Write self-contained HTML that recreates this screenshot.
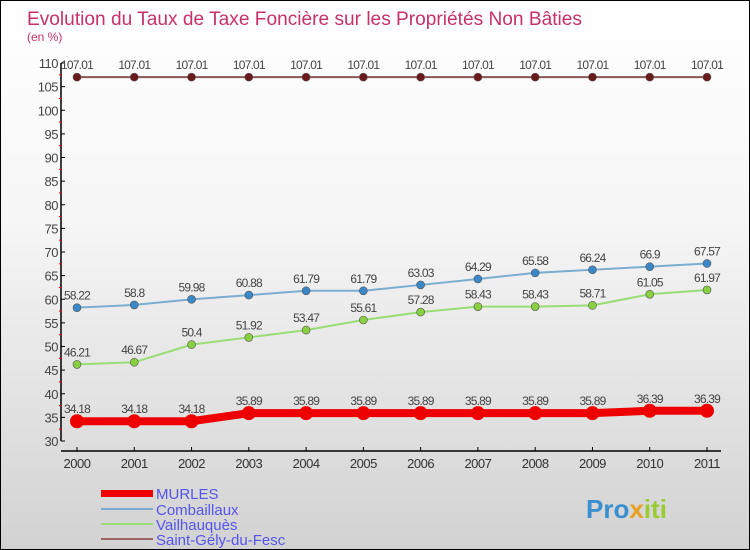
<!DOCTYPE html>
<html><head><meta charset="utf-8"><style>
body{margin:0;}
#c{width:750px;height:550px;position:relative;overflow:hidden;border:1px solid #000;box-sizing:border-box;background:linear-gradient(#fff,#f6f6f6 40%,#d2d2d2);font-family:"Liberation Sans",sans-serif;}
svg text{font-family:"Liberation Sans",sans-serif;}
</style></head><body>
<div id="c">
<svg id="s" width="750" height="550">
<text x="26" y="24" font-size="19" fill="#c8306a" textLength="555" lengthAdjust="spacingAndGlyphs">Evolution du Taux de Taxe Foncière sur les Propriétés Non Bâties</text>
<text x="26" y="40" font-size="12" fill="#c8306a">(en %)</text>
<g id="ax"></g><g id="ser"></g>
<g>
<rect x="100" y="489" width="52" height="7" fill="#e00"/>
<text x="155" y="498" font-size="15" fill="#5555ee">MURLES</text>
<rect x="100" y="507" width="52" height="2" fill="#7aaed0"/>
<text x="155" y="514" font-size="15" fill="#5555ee">Combaillaux</text>
<rect x="100" y="522" width="52" height="2" fill="#99dd77"/>
<text x="155" y="529" font-size="15" fill="#5555ee">Vailhauquès</text>
<rect x="100" y="537" width="52" height="2" fill="#996666"/>
<text x="155" y="544" font-size="15" fill="#5555ee">Saint-Gély-du-Fesc</text>
</g>
<text x="585" y="517" font-size="26" font-weight="bold" fill="#3a8fd0">Pro<tspan fill="#e8a020">x</tspan><tspan fill="#99cc33">iti</tspan></text>
</svg></div>
<script>
const years=[2000,2001,2002,2003,2004,2005,2006,2007,2008,2009,2010,2011];
const yTicks=[30,35,40,45,50,55,60,65,70,75,80,85,90,95,100,105,110];
const murles=[34.18,34.18,34.18,35.89,35.89,35.89,35.89,35.89,35.89,35.89,36.39,36.39];
const combaillaux=[58.22,58.8,59.98,60.88,61.79,61.79,63.03,64.29,65.58,66.24,66.9,67.57];
const vailhauques=[46.21,46.67,50.4,51.92,53.47,55.61,57.28,58.43,58.43,58.71,61.05,61.97];
const saintGely=[107.01,107.01,107.01,107.01,107.01,107.01,107.01,107.01,107.01,107.01,107.01,107.01];
const NS="http://www.w3.org/2000/svg";
const X=i=>76+i*(630/11), Y=v=>440-(v-30)*(378/80);
function mk(t,a,p){const e=document.createElementNS(NS,t);for(const k in a)e.setAttribute(k,a[k]);p.appendChild(e);return e;}
const ax=document.getElementById('ax'), ser=document.getElementById('ser');
let yl=mk('line',{x1:60,y1:62,x2:60,y2:440,stroke:'#000','stroke-width':1.5},ax);


yTicks.forEach(v=>{
 mk('line',{x1:60,y1:Y(v),x2:64,y2:Y(v),stroke:'#000'},ax);
 mk('line',{x1:58,y1:Y(v+2.5),x2:61,y2:Y(v+2.5),stroke:v<110?'#e00':'none'},ax);
 const t=mk('text',{x:57,y:Y(v)+5,'font-size':13,fill:'#444','text-anchor':'end','letter-spacing':'-0.5'},ax);t.textContent=v;
 
 
});
let xl=mk('line',{x1:60,y1:450,x2:720,y2:450,stroke:'#000','stroke-width':1.5},ax);


years.forEach((y,i)=>{
 mk('line',{x1:X(i),y1:446,x2:X(i),y2:450,stroke:'#000'},ax);
 const t=mk('text',{x:X(i),y:467,'font-size':13,fill:'#333','text-anchor':'middle','letter-spacing':'-0.5'},ax);t.textContent=y;
 
 
});
function series(d,col,w,r,dot,name){
 const g=mk('g',{},ser);
 
 
 const l=mk('polyline',{points:d.map((v,i)=>X(i)+','+Y(v)).join(' '),fill:'none',stroke:col,'stroke-width':w},g);
 
 
 d.forEach((v,i)=>{
  const c=mk('circle',{cx:X(i),cy:Y(v),r:r,fill:dot,stroke:w>3?'none':'#555','stroke-width':0.6},g);
  
  
  const t=mk('text',{x:X(i),y:Y(v)-8,'font-size':12,fill:'#444','text-anchor':'middle','letter-spacing':'-0.8'},g);t.textContent=v;
  
  
 });
}
series(saintGely,'#8a5555',2,4,'#6a1a1a','saint-gely');
series(combaillaux,'#7aaed0',2,4,'#3a88c8','combaillaux');
series(vailhauques,'#99dd77',2,4,'#88d040','vailhauques');
series(murles,'#e00',8,7,'#e00','murles');
</script>
</body></html>
